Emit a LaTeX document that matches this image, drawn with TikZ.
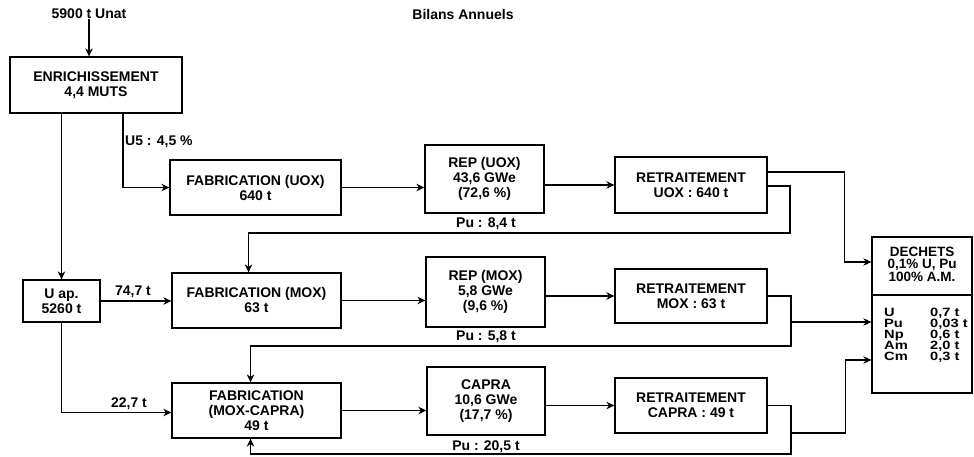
\documentclass[tikz,border=0pt]{standalone}
\usepackage{fontspec}
\setmainfont{Liberation Sans}
\newfontfamily\widefont[FakeStretch=1.22]{Liberation Sans}
\usetikzlibrary{positioning, arrows.meta}
\tikzset{
box/.style={draw, line width=1.3pt, align=center, inner sep=0pt, font=\bfseries\fontsize{14}{15}\selectfont},
lbl/.style={inner sep=0pt, font=\bfseries\fontsize{14}{15}\selectfont},
head/.style={inner sep=0pt, align=center, font=\bfseries\fontsize{13.5}{12.5}\selectfont},
tab/.style={inner sep=0pt, font=\widefont\bfseries\fontsize{12}{8.7}\selectfont},
flow/.style={line width=1.1pt, ->},
}

\begin{document}
\begin{tikzpicture}[x=1pt, y=-1pt, >={Stealth[length=8pt, width=7.5pt]}]
    \useasboundingbox (0,0) rectangle (974,457);

    %titles
    \node[lbl] (unat)  at (89,14)  {5900 t Unat};
    \node[lbl] (bilan) at (463,14) {Bilans Annuels};

    %enrichment and stock
    \node[box, minimum width=172pt, minimum height=56pt] (enr) at (96,85) {ENRICHISSEMENT\\4,4 MUTS};
    \node[box, minimum width=77pt, minimum height=42pt]  (uap) at (61.5,301) {U ap.\\5260 t};

    %row UOX
    \node[box, minimum width=171pt, minimum height=55pt] (fuox) at (255.5,187.5) {FABRICATION (UOX)\\640 t};
    \node[box, minimum width=119pt, minimum height=68pt] (ruox) at (484.5,179) {REP (UOX)\\43,6 GWe\\(72,6 \%)};
    \node[box, minimum width=152pt, minimum height=56pt] (tuox) at (691,185) {RETRAITEMENT\\UOX : 640 t};

    %row MOX
    \node[box, minimum width=169pt, minimum height=55pt] (fmox) at (256.5,300.5) {FABRICATION (MOX)\\63 t};
    \node[box, minimum width=119pt, minimum height=70pt] (rmox) at (485.5,292) {REP (MOX)\\5,8 GWe\\(9,6 \%)};
    \node[box, minimum width=152pt, minimum height=54pt] (tmox) at (691,296) {RETRAITEMENT\\MOX : 63 t};

    %row CAPRA
    \node[box, minimum width=169pt, minimum height=55pt] (fcap) at (256.5,410.5) {FABRICATION\\(MOX-CAPRA)\\49 t};
    \node[box, minimum width=118pt, minimum height=68pt] (rcap) at (486,401) {CAPRA\\10,6 GWe\\(17,7 \%)};
    \node[box, minimum width=152pt, minimum height=55pt] (tcap) at (691,405.5) {RETRAITEMENT\\CAPRA : 49 t};

    %waste
    \node[box, minimum width=100pt, minimum height=156pt] (dech) at (922,315) {};
    \coordinate (sep) at (0,295);
    \draw[line width=1.3pt] (dech.west |- sep) -- (dech.east |- sep);
    \node[head] (dtitle) at (922,264) {DECHETS\\0,1\% U, Pu\\100\% A.M.};
    \node[tab, anchor=base west] (dtab) at (884,316.5)
        {\begin{tabular}[t]{@{}p{46pt}@{}l@{}}U & 0,7 t\\ Pu & 0,03 t\\ Np & 0,6 t\\ Am & 2,0 t\\ Cm & 0,3 t\end{tabular}};

    %flow labels
    \node[lbl, anchor=west] (u5)  at (125,142) {U5 : 4,5 \%};
    \node[lbl] (q1)   at (133,292) {74,7 t};
    \node[lbl] (q2)   at (129,404) {22,7 t};
    \node[lbl] (pu1)  at (486,224) {Pu : 8,4 t};
    \node[lbl] (pu2)  at (486,337) {Pu : 5,8 t};
    \node[lbl] (pu3)  at (486,447) {Pu : 20,5 t};

    %feed
    \draw[flow] (unat.south) -- (unat.south |- enr.north);
    \draw[flow] ([xshift=27pt]enr.south) |- (fuox.west);
    \draw[flow] (enr.south -| uap.north) -- (uap.north);
    \draw[flow] (uap.east) -- (uap.east -| fmox.west);
    \draw[flow] (uap.south) |- ([yshift=-2pt]fcap.west);

    %line UOX
    \draw[flow] (fuox.east) -- (fuox.east -| ruox.west);
    \draw[flow] (ruox.east |- tuox.west) -- (tuox.west);
    \draw[flow] ([yshift=13pt]tuox.east) -| ([xshift=-27pt, yshift=53pt]dech.west) -- ([yshift=53pt]dech.west);
    \draw[flow] ([yshift=-1pt]tuox.east) -| (790,233) -| ([xshift=-8pt]fmox.north);

    %line MOX
    \draw[flow] (fmox.east) -- (fmox.east -| rmox.west);
    \draw[flow] (rmox.east |- tmox.west) -- (tmox.west);
    \draw[flow] (tmox.east) -| (791,346) -| ([xshift=-6pt]fcap.north);
    \coordinate (bmox) at (791,322);
    \draw[flow] (bmox) -- ([yshift=-7pt]dech.west);

    %line CAPRA
    \draw[flow] (fcap.east) -- (fcap.east -| rcap.west);
    \draw[flow] (rcap.east |- tcap.west) -- (tcap.west);
    \draw[flow] (tcap.east) -| (791,454) -| ([xshift=-6pt]fcap.south);
    \coordinate (bcap) at (791,433);
    \draw[flow] (bcap) -| ([xshift=-26pt, yshift=-45pt]dech.west) -- ([yshift=-45pt]dech.west);

\end{tikzpicture}
\end{document}
